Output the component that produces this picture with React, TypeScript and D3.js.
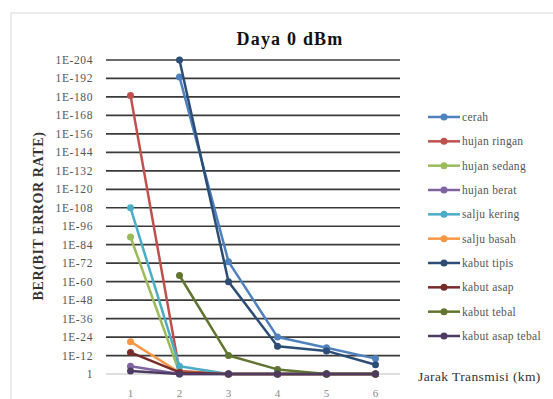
import * as d3 from 'd3'

// x categories (Jarak Transmisi, km)
const distances = ['1', '2', '3', '4', '5', '6']
// y ticks: exponent of BER (1E-n)
const yTicks = d3.range(0, 205, 12)

// BER exponents per series (value n means BER = 1E-n); null = not plotted
const cerah = [null, 193, 73, 24, 17, 10]
const hujanRingan = [181, 2, 0, 0, 0, 0]
const hujanSedang = [89, 1, 0, 0, 0, 0]
const hujanBerat = [5, 0, 0, 0, 0, 0]
const saljuKering = [108, 5, 0, 0, 0, 0]
const saljuBasah = [21, 1, 0, 0, 0, 0]
const kabutTipis = [null, 204, 60, 18, 15, 6]
const kabutAsap = [14, 1, 0, 0, 0, 0]
const kabutTebal = [null, 64, 12, 3, 0, 0]
const kabutAsapTebal = [2, 0, 0, 0, 0, 0]

const seriesNames = [
  'cerah', 'hujan ringan', 'hujan sedang', 'hujan berat', 'salju kering',
  'salju basah', 'kabut tipis', 'kabut asap', 'kabut tebal', 'kabut asap tebal',
]
const seriesValues = [
  cerah, hujanRingan, hujanSedang, hujanBerat, saljuKering,
  saljuBasah, kabutTipis, kabutAsap, kabutTebal, kabutAsapTebal,
]
const colors = [
  '#4F81BD', '#C0504D', '#9BBB59', '#8064A2', '#4BACC6',
  '#F79646', '#2C4D75', '#772C2A', '#5F7530', '#4D3B62',
]

const W = 553
const H = 399
const FONT = '"Liberation Serif", "DejaVu Serif", serif'

export default function App() {
  const x = d3.scaleBand<string>().domain(distances).range([106, 400])
  const y = d3.scaleLinear().domain([0, 204]).range([374, 60])
  const cx = (d: string) => (x(d) ?? 0) + x.bandwidth() / 2

  const line = d3
    .line<number | null>()
    .defined((d) => d !== null)
    .x((_, i) => cx(distances[i]))
    .y((d) => y(d as number))

  const legendY = d3.scalePoint<string>().domain(seriesNames).range([117, 336])

  return (
    <svg width={W} height={H} style={{ position: 'absolute', left: 0, top: 0 }}>
      <rect x={0} y={0} width={W} height={H} fill="#fff" />
      <rect x={11} y={13} width={560} height={400} fill="#fff" stroke="#d9d9d9" strokeWidth={1} />

      <text
        x={290}
        y={45}
        textAnchor="middle"
        fontFamily={FONT}
        fontWeight={700}
        fontSize={18}
        letterSpacing={1.2}
        fill="#111"
      >
        Daya 0 dBm
      </text>

      {/* gridlines */}
      {yTicks.map((t) => (
        <line
          key={t}
          x1={106}
          x2={400}
          y1={y(t)}
          y2={y(t)}
          stroke={t === 0 ? '#bfbfbf' : '#3a3a3a'}
          strokeWidth={t === 0 ? 1 : 1.7}
        />
      ))}

      {/* y tick labels */}
      {yTicks.map((t) => (
        <text
          key={t}
          x={93}
          y={y(t)}
          dy="0.35em"
          textAnchor="end"
          fontFamily={FONT}
          fontSize={11.5}
          letterSpacing={0.6}
          fill="#555"
        >
          {t === 0 ? '1' : `1E-${t}`}
        </text>
      ))}

      {/* x tick labels */}
      {distances.map((d) => (
        <text key={d} x={cx(d)} y={397} textAnchor="middle" fontFamily={FONT} fontSize={11} fill="#888">
          {d}
        </text>
      ))}

      <text
        transform="translate(43,216) rotate(-90)"
        textAnchor="middle"
        fontFamily={FONT}
        fontWeight={700}
        fontSize={14}
        letterSpacing={0.6}
        fill="#333"
      >
        BER(BIT ERROR RATE)
      </text>

      <text x={418} y={381} fontFamily={FONT} fontSize={13.5} letterSpacing={0.4} fill="#333">
        Jarak Transmisi (km)
      </text>

      {/* series */}
      {seriesValues.map((vals, si) => (
        <g key={seriesNames[si]}>
          <path d={line(vals) ?? ''} fill="none" stroke={colors[si]} strokeWidth={2.5} strokeLinejoin="round" />
          {vals.map((v, i) =>
            v === null ? null : (
              <circle key={i} cx={cx(distances[i])} cy={y(v)} r={3.5} fill={colors[si]} />
            ),
          )}
        </g>
      ))}

      {/* legend */}
      {seriesNames.map((name, si) => {
        const ly = legendY(name) ?? 0
        return (
          <g key={name}>
            <line x1={428} x2={460} y1={ly} y2={ly} stroke={colors[si]} strokeWidth={2.5} />
            <circle cx={444} cy={ly} r={3.5} fill={colors[si]} />
            <text x={462} y={ly} dy="0.35em" fontFamily={FONT} fontSize={11.5} letterSpacing={0.3} fill="#555">
              {name}
            </text>
          </g>
        )
      })}
    </svg>
  )
}
